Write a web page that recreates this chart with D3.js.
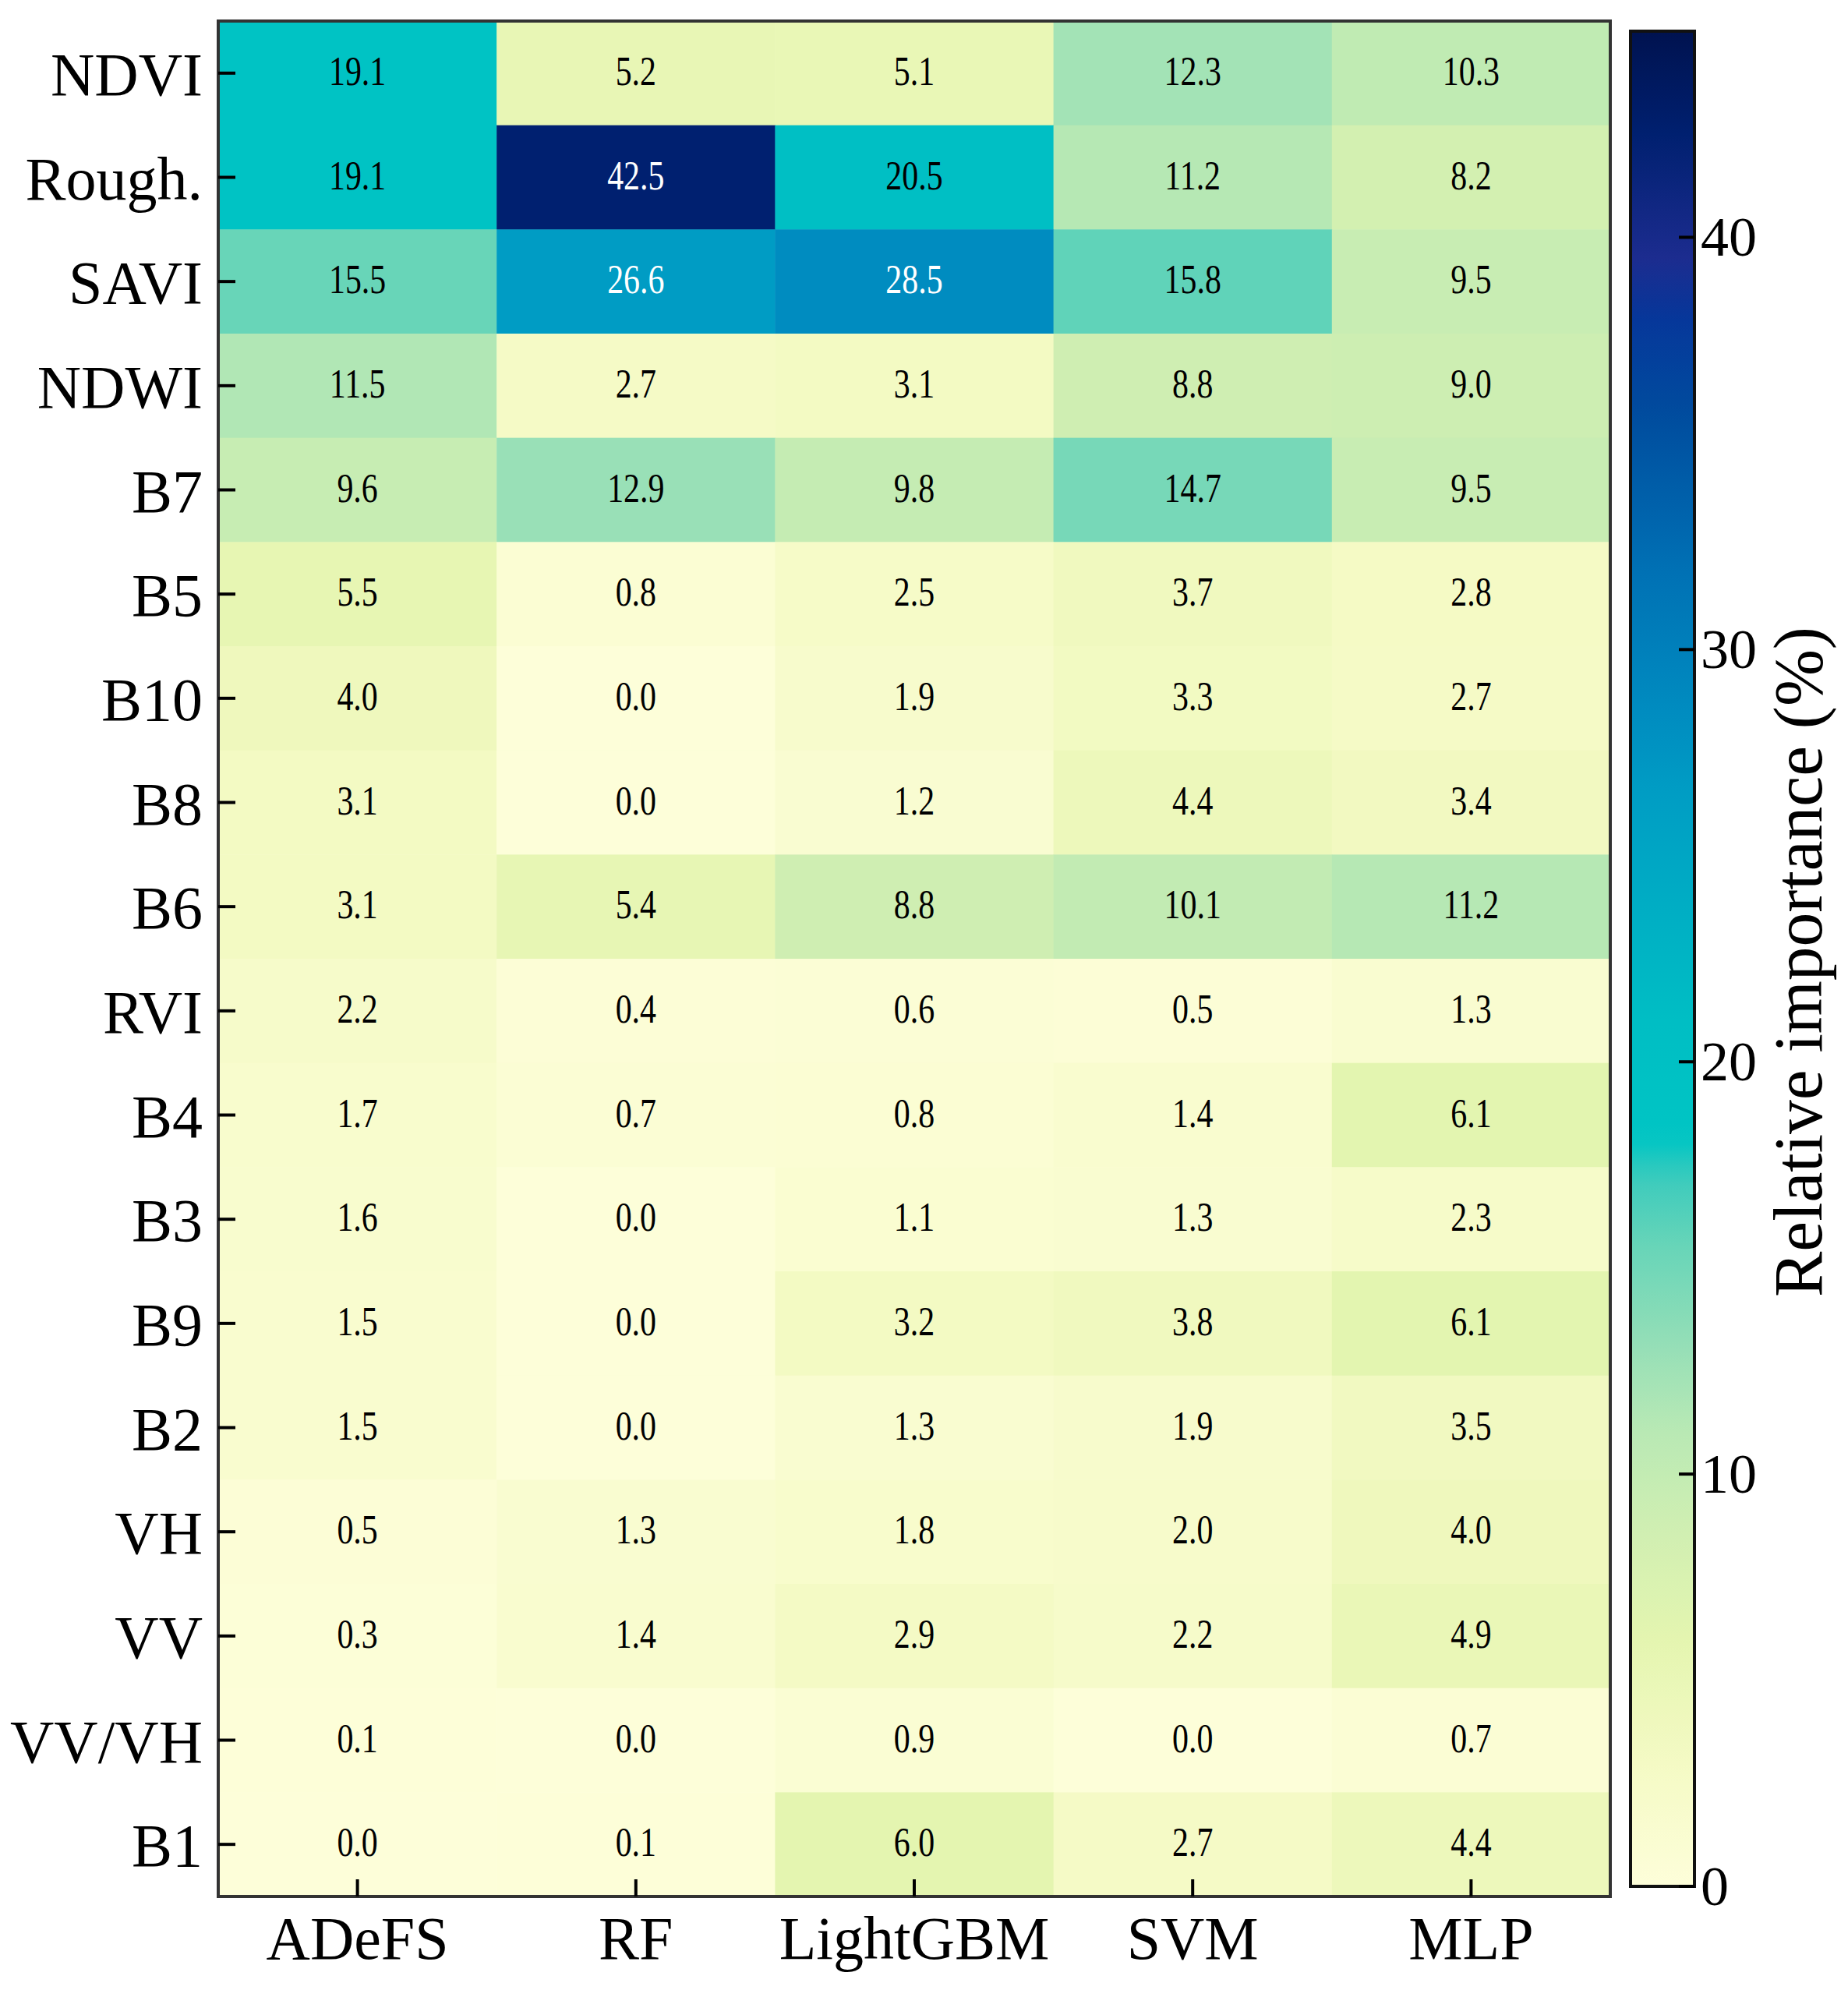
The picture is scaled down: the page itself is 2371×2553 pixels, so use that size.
<!DOCTYPE html>
<html>
<head>
<meta charset="utf-8">
<script src="https://cdn.jsdelivr.net/npm/d3@7"></script>
<style>
    body { margin: 0; background: #ffffff; }
    text { font-family: "Liberation Serif", "Times New Roman", serif; }
</style>
</head>
<body>
<div id="canvas"></div>
<script>
"use strict";

// Features (rows) and models (columns)
let features = ["NDVI", "Rough.", "SAVI", "NDWI", "B7", "B5", "B10", "B8", "B6",
    "RVI", "B4", "B3", "B9", "B2", "VH", "VV", "VV/VH", "B1"];
let models = ["ADeFS", "RF", "LightGBM", "SVM", "MLP"];

// Relative importance (%) per model, in feature order
let adefs    = [19.1, 19.1, 15.5, 11.5, 9.6, 5.5, 4.0, 3.1, 3.1, 2.2, 1.7, 1.6, 1.5, 1.5, 0.5, 0.3, 0.1, 0.0];
let rf       = [5.2, 42.5, 26.6, 2.7, 12.9, 0.8, 0.0, 0.0, 5.4, 0.4, 0.7, 0.0, 0.0, 0.0, 1.3, 1.4, 0.0, 0.1];
let lightgbm = [5.1, 20.5, 28.5, 3.1, 9.8, 2.5, 1.9, 1.2, 8.8, 0.6, 0.8, 1.1, 3.2, 1.3, 1.8, 2.9, 0.9, 6.0];
let svm      = [12.3, 11.2, 15.8, 8.8, 14.7, 3.7, 3.3, 4.4, 10.1, 0.5, 1.4, 1.3, 3.8, 1.9, 2.0, 2.2, 0.0, 2.7];
let mlp      = [10.3, 8.2, 9.5, 9.0, 9.5, 2.8, 2.7, 3.4, 11.2, 1.3, 6.1, 2.3, 6.1, 3.5, 4.0, 4.9, 0.7, 4.4];

let colorTicks = [0, 10, 20, 30, 40];

let seriesList = [adefs, rf, lightgbm, svm, mlp];
let cells = [];
features.forEach((f, i) => {
    models.forEach((m, j) => {
        cells.push({feature: f, model: m, value: seriesList[j][i]});
    });
});

// Canvas
let svgWidth = 2371;
let svgHeight = 2553;
let plot = {left: 280, right: 2066, top: 27, bottom: 2433};
let bar = {left: 2092, right: 2174, top: 40, bottom: 2420};

let svg = d3.select("#canvas")
    .append("svg")
    .attr("width", svgWidth)
    .attr("height", svgHeight);

svg.append("rect")
    .attr("width", svgWidth)
    .attr("height", svgHeight)
    .attr("fill", "#ffffff");

// Scales
let xScale = d3.scaleBand()
    .domain(models)
    .range([plot.left, plot.right]);

let yScale = d3.scaleBand()
    .domain(features)
    .range([plot.top, plot.bottom]);

// Custom yellow-green-cyan-blue map sampled from the colour bar
let colorScale = d3.scaleLinear()
    .domain([0, 3, 6, 9, 11, 13, 15.5, 17.2, 18.1, 21, 26.6, 28.5, 32, 35.7, 38, 39.5, 42.5, 45])
    .range(["#fdfed9", "#f4fac4", "#e4f5b0", "#cdeeb2", "#b9e9b4", "#97dfb7", "#68d5b8",
        "#3ccbbd", "#00c5c4", "#00bec4", "#009cc4", "#008cc0", "#0070b4", "#004c9e",
        "#06379a", "#1c2c8f", "#002070", "#00124f"])
    .interpolate(d3.interpolateRgb)
    .clamp(true);

let barScale = d3.scaleLinear()
    .domain([0, 45])
    .range([bar.bottom, bar.top]);

// Heatmap cells
svg.selectAll("rect.cell")
    .data(cells)
    .join("rect")
    .attr("class", "cell")
    .attr("x", d => xScale(d.model))
    .attr("y", d => yScale(d.feature))
    .attr("width", xScale.bandwidth() + 0.5)
    .attr("height", yScale.bandwidth() + 0.5)
    .attr("fill", d => colorScale(d.value));

// Cell labels (narrow digits, as in the figure)
svg.selectAll("text.cell-label")
    .data(cells)
    .join("text")
    .attr("class", "cell-label")
    .attr("transform", d => "translate(" + (xScale(d.model) + xScale.bandwidth() / 2) + ","
        + (yScale(d.feature) + yScale.bandwidth() / 2 + 15) + ") scale(0.79,1)")
    .attr("text-anchor", "middle")
    .style("font-size", "53px")
    .attr("fill", d => d.value > 22.5 ? "#ffffff" : "#000000")
    .text(d => d.value.toFixed(1));

// Frame
svg.append("rect")
    .attr("x", plot.left)
    .attr("y", plot.top)
    .attr("width", plot.right - plot.left)
    .attr("height", plot.bottom - plot.top)
    .attr("fill", "none")
    .attr("stroke", "#333333")
    .attr("stroke-width", 4);

// Y ticks and labels (ticks point inward)
features.forEach(f => {
    let cy = yScale(f) + yScale.bandwidth() / 2;
    svg.append("line")
        .attr("x1", plot.left)
        .attr("x2", plot.left + 22)
        .attr("y1", cy)
        .attr("y2", cy)
        .attr("stroke", "#000000")
        .attr("stroke-width", 4);
    svg.append("text")
        .attr("x", plot.left - 20)
        .attr("y", cy + 28)
        .attr("text-anchor", "end")
        .style("font-size", "78px")
        .text(f);
});

// X ticks and labels
models.forEach(m => {
    let cx = xScale(m) + xScale.bandwidth() / 2;
    svg.append("line")
        .attr("x1", cx)
        .attr("x2", cx)
        .attr("y1", plot.bottom)
        .attr("y2", plot.bottom - 22)
        .attr("stroke", "#000000")
        .attr("stroke-width", 4);
    svg.append("text")
        .attr("x", cx)
        .attr("y", 2513)
        .attr("text-anchor", "middle")
        .style("font-size", "78px")
        .text(m);
});

// Colour bar gradient
let defs = svg.append("defs");
let gradient = defs.append("linearGradient")
    .attr("id", "importance-gradient")
    .attr("x1", "0%")
    .attr("y1", "100%")
    .attr("x2", "0%")
    .attr("y2", "0%");

d3.range(0, 45.01, 0.5).forEach(v => {
    gradient.append("stop")
        .attr("offset", (v / 45 * 100) + "%")
        .attr("stop-color", colorScale(v));
});

svg.append("rect")
    .attr("x", bar.left)
    .attr("y", bar.top)
    .attr("width", bar.right - bar.left)
    .attr("height", bar.bottom - bar.top)
    .style("fill", "url(#importance-gradient)")
    .attr("stroke", "#111111")
    .attr("stroke-width", 4);

// Colour bar ticks
colorTicks.forEach(t => {
    let ty = barScale(t);
    svg.append("line")
        .attr("x1", bar.right)
        .attr("x2", bar.right - 20)
        .attr("y1", ty)
        .attr("y2", ty)
        .attr("stroke", "#000000")
        .attr("stroke-width", 4);
    svg.append("text")
        .attr("x", bar.right + 8)
        .attr("y", ty + 24)
        .style("font-size", "72px")
        .text(t);
});

// Colour bar title
svg.append("text")
    .attr("transform", "translate(2337,1234) rotate(-90)")
    .attr("text-anchor", "middle")
    .attr("textLength", 860)
    .attr("lengthAdjust", "spacingAndGlyphs")
    .style("font-size", "88px")
    .text("Relative importance (%)");
</script>
</body>
</html>
